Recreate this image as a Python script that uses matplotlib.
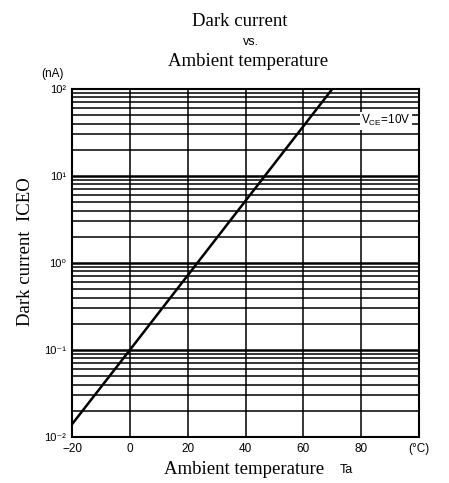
import matplotlib
matplotlib.use("Agg")
import matplotlib.pyplot as plt
import numpy as np

# Data
temps = [-20, 0, 70]            # °C
dark_current = [0.014, 0.1, 100]  # nA
x_ticks = [-20, 0, 20, 40, 60, 80, 100]
x_tick_labels = ["\u221220", "0", "20", "40", "60", "80", "(\u00b0C)"]
y_ticks = [1e-2, 1e-1, 1e0, 1e1, 1e2]
y_tick_labels = ["10\u207b\u00b2", "10\u207b\u00b9", "10\u2070", "10\u00b9", "10\u00b2"]

sans = ["Liberation Sans", "DejaVu Sans"]
serif = ["Liberation Serif", "DejaVu Serif"]

fig = plt.figure(figsize=(4.49, 4.83), dpi=100)
ax = fig.add_axes([72/449, 1-437/483, 347/449, 348/483])
ax.set_yscale("log")
ax.set_xlim(-20, 100)
ax.set_ylim(1e-2, 1e2)

# grid lines
for d in range(-2, 2):
    for m in range(1, 10):
        v = m * 10.0**d
        if v <= 1e-2:
            continue
        ax.axhline(v, color="black", lw=1.8 if m == 1 else 1.1, zorder=1)
for t in [0, 20, 40, 60, 80]:
    ax.axvline(t, color="black", lw=1.1, zorder=1)

ax.plot(temps, dark_current, color="black", lw=1.8, zorder=3)

ax.set_xticks(x_ticks)
ax.set_xticklabels(x_tick_labels, family=sans, fontsize=8.5)
ax.set_yticks(y_ticks)
ax.set_yticklabels(y_tick_labels, family=sans, fontsize=8)
ax.minorticks_off()
ax.tick_params(length=0, pad=4)
for s in ax.spines.values():
    s.set_linewidth(1.5)
    s.set_color("black")

ax.text(88.5, 43, "V$_{\\mathregular{CE}}$=10V", family=sans, fontsize=8.5,
        ha="center", va="center", zorder=4,
        bbox=dict(facecolor="white", edgecolor="none", pad=1.0))

fig.text(53/449, 1-74/483, "(nA)", family=sans, fontsize=8.5, ha="center", va="center")

fig.text(0.535, 1-21/483, "Dark current", family=serif, fontsize=13.5, ha="center", va="center")
fig.text(0.56, 1-42/483, "vs.", family=sans, fontsize=9, ha="center", va="center")
fig.text(0.552, 1-62/483, "Ambient temperature", family=serif, fontsize=13.5, ha="center", va="center")

fig.text(26/449, 1-252/483, "Dark current  ICEO", family=serif, fontsize=13.5,
         rotation=90, ha="center", va="center")
fig.text(244/449, 1-469/483, "Ambient temperature", family=serif, fontsize=13.5,
         ha="center", va="center")
fig.text(346/449, 1-470/483, "Ta", family=sans, fontsize=9, ha="center", va="center")

fig.savefig("out.png", dpi=100, facecolor="white")
